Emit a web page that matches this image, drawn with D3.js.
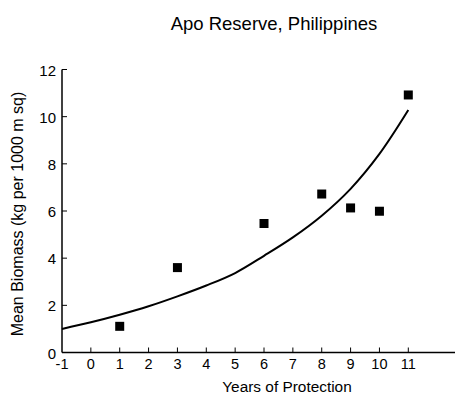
<!DOCTYPE html>
<html>
<head>
<meta charset="utf-8">
<script src="https://cdn.jsdelivr.net/npm/d3@7"></script>
<style>
  body { margin: 0; background: #fff; }
  svg text { font-family: "Liberation Sans", Arial, Helvetica, sans-serif; fill: #000; }
</style>
</head>
<body>
<svg id="chart" width="457" height="396"></svg>
<script>
// observed mean biomass by years of protection
var obsYears = [1, 3, 6, 8, 9, 10, 11];
var obsBiomass = [1.11, 3.6, 5.47, 6.72, 6.13, 5.99, 10.92];

// fitted curve
var fitYears = [-1, 0, 1, 2, 3, 4, 5, 6, 7, 8, 9, 10, 11];
var fitBiomass = [1.0, 1.28, 1.6, 1.96, 2.38, 2.84, 3.37, 4.1, 4.88, 5.8, 6.94, 8.42, 10.28];

var xTicks = [-1, 0, 1, 2, 3, 4, 5, 6, 7, 8, 9, 10, 11];
var yTicks = [0, 2, 4, 6, 8, 10, 12];

var svg = d3.select("#chart");

var x = d3.scaleLinear().domain([-1, 11]).range([62, 408.3]);
var y = d3.scaleLinear().domain([0, 12]).range([352.5, 69.5]);

// axes
svg.append("line")
  .attr("x1", x(-1)).attr("x2", 455)
  .attr("y1", y(0)).attr("y2", y(0))
  .attr("stroke", "#000").attr("stroke-width", 1.5);

svg.append("line")
  .attr("x1", x(-1)).attr("x2", x(-1))
  .attr("y1", y(0)).attr("y2", y(12))
  .attr("stroke", "#000").attr("stroke-width", 1.5);

svg.selectAll(".xtick").data(xTicks.slice(1)).enter().append("line")
  .attr("x1", d => x(d)).attr("x2", d => x(d))
  .attr("y1", y(0)).attr("y2", y(0) - 5)
  .attr("stroke", "#000").attr("stroke-width", 1);

svg.selectAll(".ytick").data(yTicks.slice(1)).enter().append("line")
  .attr("x1", x(-1)).attr("x2", x(-1) + 5)
  .attr("y1", d => y(d)).attr("y2", d => y(d))
  .attr("stroke", "#000").attr("stroke-width", 1);

svg.selectAll(".xlab").data(xTicks).enter().append("text")
  .attr("x", d => x(d))
  .attr("y", 369)
  .attr("text-anchor", "middle")
  .style("font-size", "14.5px")
  .text(d => d);

svg.selectAll(".ylab").data(yTicks).enter().append("text")
  .attr("x", 56)
  .attr("y", d => y(d) + 6)
  .attr("text-anchor", "end")
  .style("font-size", "15px")
  .text(d => d);

// fitted curve
var line = d3.line()
  .x((d, i) => x(fitYears[i]))
  .y(d => y(d))
  .curve(d3.curveCatmullRom);

svg.append("path")
  .attr("d", line(fitBiomass))
  .attr("fill", "none")
  .attr("stroke", "#000")
  .attr("stroke-width", 2);

// observations
var sz = 9;
svg.selectAll(".pt").data(obsBiomass).enter().append("rect")
  .attr("x", (d, i) => x(obsYears[i]) - sz / 2)
  .attr("y", d => y(d) - sz / 2)
  .attr("width", sz).attr("height", sz)
  .attr("fill", "#000");

// titles
svg.append("text")
  .attr("x", 274).attr("y", 30)
  .attr("text-anchor", "middle")
  .style("font-size", "18.5px")
  .text("Apo Reserve, Philippines");

svg.append("text")
  .attr("x", 287).attr("y", 392)
  .attr("text-anchor", "middle")
  .style("font-size", "15.4px")
  .text("Years of Protection");

svg.append("text")
  .attr("transform", "translate(23,214) rotate(-90)")
  .attr("text-anchor", "middle")
  .style("font-size", "16px")
  .text("Mean Biomass (kg per 1000 m sq)");
</script>
</body>
</html>
